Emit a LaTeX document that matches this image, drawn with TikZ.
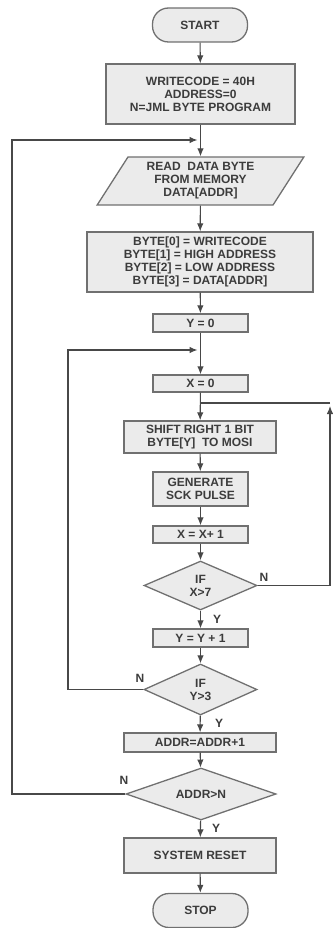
\documentclass[tikz,border=0pt]{standalone}
\usepackage{fontspec}
\setmainfont{Liberation Sans}
\usetikzlibrary{shapes.geometric,arrows.meta}
\definecolor{boxfill}{HTML}{EBEBEB}
\definecolor{boxline}{HTML}{707070}
\definecolor{txtc}{HTML}{3C3C3C}
\definecolor{linec}{HTML}{484848}
\begin{document}
\begin{tikzpicture}[x=1pt,y=-1pt,
    box/.style={draw=boxline,fill=boxfill,line width=1.3pt,text=txtc,inner sep=0pt,
                align=center,font=\fontsize{12}{12.9}\selectfont\bfseries},
    term/.style={box,rounded corners=16pt,minimum width=95pt,minimum height=34pt},
    io/.style={box,trapezium,trapezium left angle=58,trapezium right angle=122,
               trapezium stretches=true,minimum width=207pt,minimum height=48pt},
    test/.style={box,diamond,shape aspect=2.3},
    lbl/.style={text=txtc,inner sep=0pt,font=\fontsize{12}{12}\selectfont\bfseries},
    flow/.style={draw=linec,line width=1.1pt,-{Latex[length=8pt,width=6.5pt]}},
    wire/.style={draw=linec,line width=1.1pt}]
    \useasboundingbox (0,0) rectangle (332,928);
    %main column
    \node[term] (start) at (200,25) {START};
    \node[box,minimum width=189pt,minimum height=60pt] (init) at (200.5,94)
        {WRITECODE = 40H\\ADDRESS=0\\N=JML BYTE PROGRAM};
    \node[io] (read) at (200.5,181) {READ\ \ DATA BYTE\\FROM MEMORY\\DATA[ADDR]};
    \node[box,minimum width=226pt,minimum height=60pt] (bytes) at (200,262)
        {BYTE[0] = WRITECODE\\BYTE[1] = HIGH ADDRESS\\BYTE[2] = LOW ADDRESS\\BYTE[3] = DATA[ADDR]};
    \node[box,minimum width=95pt,minimum height=18pt] (yzero) at (200.5,323) {Y = 0};
    \node[box,minimum width=95pt,minimum height=17pt] (xzero) at (200.5,383.5) {X = 0};
    \node[box,minimum width=152pt,minimum height=32pt] (shift) at (200,437)
        {SHIFT RIGHT 1 BIT\\BYTE[Y]\ \ TO MOSI};
    \node[box,minimum width=95pt,minimum height=34pt] (gen) at (200.5,489) {GENERATE\\SCK PULSE};
    \node[box,minimum width=95pt,minimum height=17pt] (xinc) at (200.5,534.5) {X = X+ 1};
    \node[test,minimum width=113pt,minimum height=49pt] (testx) at (200.5,585.5) {IF\\X>7};
    \node[box,minimum width=95pt,minimum height=18pt] (yinc) at (200.5,638) {Y = Y + 1};
    \node[test,minimum width=113pt,minimum height=51pt] (testy) at (200.5,689.5) {IF\\Y>3};
    \node[box,minimum width=152pt,minimum height=19pt] (addr) at (200,742.5) {ADDR=ADDR+1};
    \node[test,minimum width=150pt,minimum height=52pt] (testa) at (201,794) {ADDR>N};
    \node[box,minimum width=152pt,minimum height=35pt] (reset) at (200,855.5) {SYSTEM RESET};
    \node[term] (stop) at (200.5,910.5) {STOP};
    %junctions
    \coordinate (ja) at (200.5,140);
    \coordinate (jy) at (200.5,350);
    \coordinate (jx) at (200.5,403);
    %labels
    \node[lbl] (nx) at (264,577) {N};
    \node[lbl] (yx) at (217,619) {Y};
    \node[lbl] (ny) at (140,678) {N};
    \node[lbl] (yy) at (219,723) {Y};
    \node[lbl] (na) at (124,780) {N};
    \node[lbl] (ya) at (216,828) {Y};
    %flow
    \draw[flow] (start) -- (init);
    \draw[flow] (init) -- (read);
    \draw[flow] (read) -- (bytes);
    \draw[flow] (bytes) -- (yzero);
    \draw[flow] (yzero) -- (xzero);
    \draw[flow] (xzero) -- (shift);
    \draw[flow] (shift) -- (gen);
    \draw[flow] (gen) -- (xinc);
    \draw[flow] (xinc) -- (testx);
    \draw[flow] (testx) -- (yinc);
    \draw[flow] (yinc) -- (testy);
    \draw[flow] (testy) -- (addr);
    \draw[flow] (addr) -- (testa);
    \draw[flow] (testa) -- (reset);
    \draw[flow] (reset) -- (stop);
    %loops
    \draw[flow] (testx.east) -- (330,585.5) -- (330,406);
    \draw[wire] (330,403) -- (jx);
    \draw[flow,shorten >=3pt] (testy.west) -- (68,689.5) -- (68,350) -- (jy);
    \draw[flow,shorten >=3pt] (testa.west) -- (12,794) -- (12,140) -- (ja);
\end{tikzpicture}
\end{document}
